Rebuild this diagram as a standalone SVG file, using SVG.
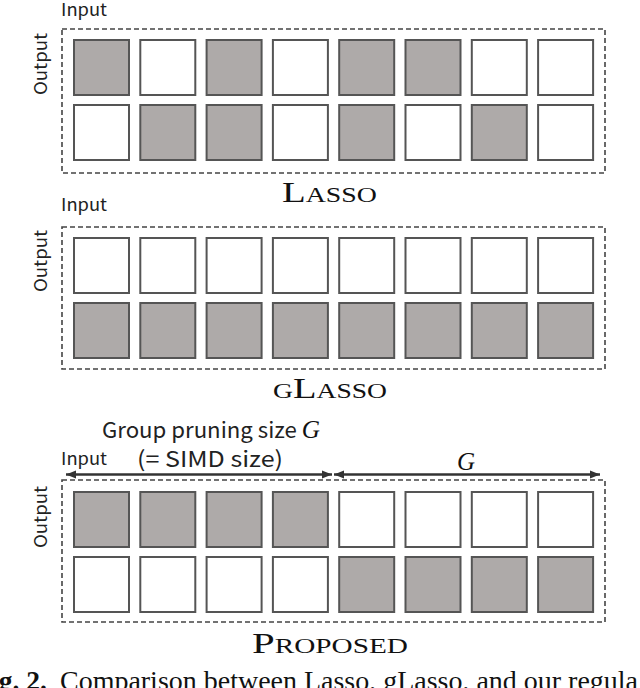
<svg xmlns="http://www.w3.org/2000/svg" width="640" height="688" viewBox="0 0 640 688">
<style>
.sans{font-family:"Noto Sans CJK JP","Noto Sans",sans-serif;fill:#222;}
.lab{font-size:17px;}
.serif{font-family:"Liberation Serif","Times New Roman",serif;fill:#111;}
.box{fill:none;stroke:#444;stroke-width:1.6;stroke-dasharray:5 3;}
.w{fill:#fff;stroke:#555;stroke-width:2;}
.g{fill:#aeaaa9;stroke:#555;stroke-width:2;}
.arr{stroke:#333;stroke-width:2.5;fill:none;}
</style>
<defs>
<marker id="ah" viewBox="0 0 10 10" refX="10" refY="5" markerWidth="10" markerHeight="10" markerUnits="userSpaceOnUse" orient="auto-start-reverse">
<path d="M0,1 L10,5 L0,9 Z" fill="#333"/>
</marker>
</defs>
<rect width="640" height="688" fill="#fff"/>

<!-- Panel 1: Lasso -->
<g id="lasso">
<text class="sans lab" x="61" y="16" textLength="46" lengthAdjust="spacingAndGlyphs">Input</text>
<text class="sans lab" transform="translate(47,64) rotate(-90)" text-anchor="middle" textLength="62" lengthAdjust="spacingAndGlyphs">Output</text>
<rect class="box" x="62" y="29" width="543" height="144"/>
<rect class="g" x="74" y="40" width="55" height="55"/>
<rect class="w" x="140.3" y="40" width="55" height="55"/>
<rect class="g" x="206.6" y="40" width="55" height="55"/>
<rect class="w" x="272.9" y="40" width="55" height="55"/>
<rect class="g" x="339.2" y="40" width="55" height="55"/>
<rect class="g" x="405.5" y="40" width="55" height="55"/>
<rect class="w" x="471.8" y="40" width="55" height="55"/>
<rect class="w" x="538.1" y="40" width="55" height="55"/>
<rect class="w" x="74" y="105" width="55" height="55"/>
<rect class="g" x="140.3" y="105" width="55" height="55"/>
<rect class="g" x="206.6" y="105" width="55" height="55"/>
<rect class="w" x="272.9" y="105" width="55" height="55"/>
<rect class="g" x="339.2" y="105" width="55" height="55"/>
<rect class="w" x="405.5" y="105" width="55" height="55"/>
<rect class="g" x="471.8" y="105" width="55" height="55"/>
<rect class="w" x="538.1" y="105" width="55" height="55"/>
<text class="serif" x="282" y="202" textLength="95" lengthAdjust="spacingAndGlyphs"><tspan font-size="30">L</tspan><tspan font-size="21.5">ASSO</tspan></text>
</g>

<!-- Panel 2: gLasso -->
<g id="glasso">
<text class="sans lab" x="61" y="211" textLength="46" lengthAdjust="spacingAndGlyphs">Input</text>
<text class="sans lab" transform="translate(47,261) rotate(-90)" text-anchor="middle" textLength="62" lengthAdjust="spacingAndGlyphs">Output</text>
<rect class="box" x="62" y="227" width="543" height="142"/>
<rect class="w" x="74" y="238" width="55" height="55"/>
<rect class="w" x="140.3" y="238" width="55" height="55"/>
<rect class="w" x="206.6" y="238" width="55" height="55"/>
<rect class="w" x="272.9" y="238" width="55" height="55"/>
<rect class="w" x="339.2" y="238" width="55" height="55"/>
<rect class="w" x="405.5" y="238" width="55" height="55"/>
<rect class="w" x="471.8" y="238" width="55" height="55"/>
<rect class="w" x="538.1" y="238" width="55" height="55"/>
<rect class="g" x="74" y="303" width="55" height="55"/>
<rect class="g" x="140.3" y="303" width="55" height="55"/>
<rect class="g" x="206.6" y="303" width="55" height="55"/>
<rect class="g" x="272.9" y="303" width="55" height="55"/>
<rect class="g" x="339.2" y="303" width="55" height="55"/>
<rect class="g" x="405.5" y="303" width="55" height="55"/>
<rect class="g" x="471.8" y="303" width="55" height="55"/>
<rect class="g" x="538.1" y="303" width="55" height="55"/>
<text class="serif" x="273" y="398" textLength="114" lengthAdjust="spacingAndGlyphs"><tspan font-size="21.5">G</tspan><tspan font-size="30">L</tspan><tspan font-size="21.5">ASSO</tspan></text>
</g>

<!-- Panel 3: Proposed -->
<g id="proposed">
<text class="sans" font-size="22" x="102" y="438" textLength="218" lengthAdjust="spacingAndGlyphs">Group pruning size <tspan class="serif" font-style="italic" font-size="25">G</tspan></text>
<text class="sans" font-size="22" x="137" y="467" textLength="146" lengthAdjust="spacingAndGlyphs">(= SIMD size)</text>
<text class="sans lab" x="61" y="465" textLength="46" lengthAdjust="spacingAndGlyphs">Input</text>
<text class="serif" font-style="italic" font-size="25" x="466" y="470" text-anchor="middle">G</text>
<text class="sans lab" transform="translate(47,517) rotate(-90)" text-anchor="middle" textLength="62" lengthAdjust="spacingAndGlyphs">Output</text>
<rect class="box" x="62" y="480" width="543" height="142"/>
<rect class="g" x="74" y="492" width="55" height="55"/>
<rect class="g" x="140.3" y="492" width="55" height="55"/>
<rect class="g" x="206.6" y="492" width="55" height="55"/>
<rect class="g" x="272.9" y="492" width="55" height="55"/>
<rect class="w" x="339.2" y="492" width="55" height="55"/>
<rect class="w" x="405.5" y="492" width="55" height="55"/>
<rect class="w" x="471.8" y="492" width="55" height="55"/>
<rect class="w" x="538.1" y="492" width="55" height="55"/>
<rect class="w" x="74" y="557" width="55" height="55"/>
<rect class="w" x="140.3" y="557" width="55" height="55"/>
<rect class="w" x="206.6" y="557" width="55" height="55"/>
<rect class="w" x="272.9" y="557" width="55" height="55"/>
<rect class="g" x="339.2" y="557" width="55" height="55"/>
<rect class="g" x="405.5" y="557" width="55" height="55"/>
<rect class="g" x="471.8" y="557" width="55" height="55"/>
<rect class="g" x="538.1" y="557" width="55" height="55"/>
<text class="serif" x="252" y="653" textLength="156" lengthAdjust="spacingAndGlyphs"><tspan font-size="30">P</tspan><tspan font-size="21.5">ROPOSED</tspan></text>
</g>

<g id="connectors">
<line class="arr" x1="66" y1="474.5" x2="332" y2="474.5" marker-start="url(#ah)" marker-end="url(#ah)"/>
<line class="arr" x1="334" y1="474.5" x2="600" y2="474.5" marker-start="url(#ah)" marker-end="url(#ah)"/>
</g>

<g id="caption">
<text class="serif" font-size="27.5" font-weight="bold" x="47" y="690" text-anchor="end">Fig. 2.</text>
<text class="serif" font-size="27.5" x="60" y="690" textLength="578" lengthAdjust="spacingAndGlyphs">Comparison between Lasso, gLasso, and our regula</text>
</g>
</svg>
